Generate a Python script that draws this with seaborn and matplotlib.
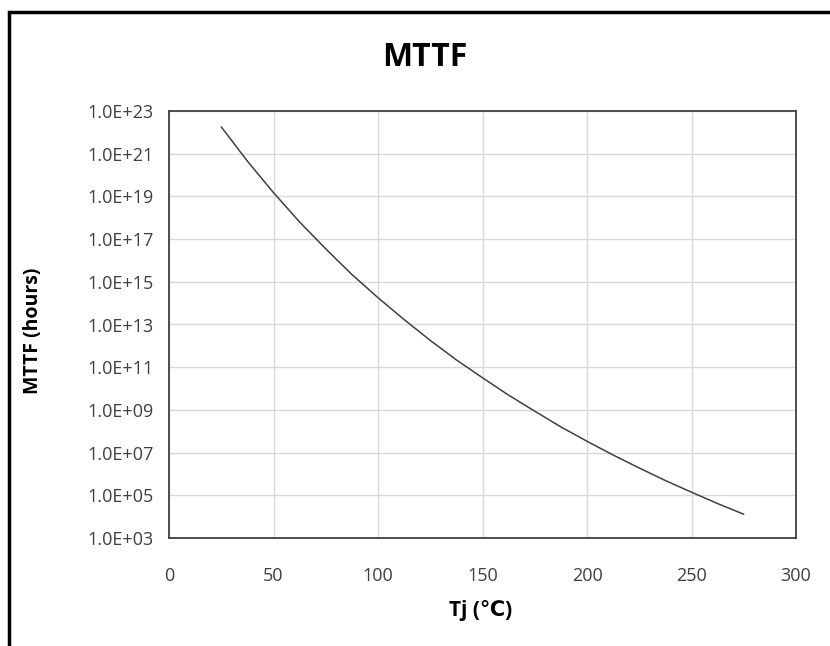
import math
import matplotlib
matplotlib.use("Agg")
import matplotlib.pyplot as plt
import matplotlib.ticker as mticker
import seaborn as sns
import pandas as pd
from matplotlib.patches import Rectangle

# junction temperature (degC) and MTTF (hours)
tj = [25, 37.5, 50, 62.5, 75, 87.5, 100, 112.5, 125, 137.5, 150,
      162.5, 175, 187.5, 200, 212.5, 225, 237.5, 250, 262.5, 275]
mttf = [1.8e22, 4.5e20, 1.5e19, 6.3e17, 3.5e16, 2.2e15, 1.8e14, 1.7e13, 1.8e12, 2.2e11, 3.2e10,
        4.9e9, 8.7e8, 1.6e8, 3.4e7, 7.7e6, 1.9e6, 4.9e5, 1.4e5, 4.1e4, 1.3e4]

x_ticks = [0, 50, 100, 150, 200, 250, 300]
y_ticks = [1e3, 1e5, 1e7, 1e9, 1e11, 1e13, 1e15, 1e17, 1e19, 1e21, 1e23]

df = pd.DataFrame({"tj": tj, "mttf": mttf})

sns.set_theme(style="white")
plt.rcParams["font.family"] = ["Open Sans", "DejaVu Sans"]

fig = plt.figure(figsize=(8.3, 6.46), dpi=100)
ax = fig.add_axes([169 / 830, 1 - 538 / 646, 627 / 830, 427 / 646])

sns.lineplot(data=df, x="tj", y="mttf", ax=ax, color="#404040", linewidth=1.1)

ax.set_yscale("log")
ax.set_xlim(0, 300)
ax.set_ylim(1e3, 1e23)
ax.set_xticks(x_ticks)
ax.set_yticks(y_ticks)
ax.yaxis.set_minor_locator(mticker.NullLocator())
ax.yaxis.set_major_formatter(
    mticker.FuncFormatter(lambda v, p: f"1.0E+{int(round(math.log10(v))):02d}"))
ax.tick_params(axis="both", labelsize=13, colors="#404040", length=0)
ax.tick_params(axis="x", pad=21)
ax.tick_params(axis="y", pad=11)
ax.grid(True, color="#d9d9d9", linewidth=1)
for s in ax.spines.values():
    s.set_color("#404040")
    s.set_linewidth(1.3)

ax.set_xlabel("")
ax.set_ylabel("")
fig.text(481 / 830, 1 - 610 / 646, "Tj (\u2103)", ha="center", va="center",
         fontsize=15, fontweight="bold", color="black")
fig.text(33 / 830, 1 - 331 / 646, "MTTF (hours)", ha="center", va="center",
         rotation=90, fontsize=14, fontweight="bold", color="black")
fig.text(425 / 830, 1 - 57 / 646, "MTTF", ha="center", va="center",
         fontsize=23, fontweight="bold", color="black")

# outer chart border (right/bottom fall outside the image)
fig.patches.append(Rectangle((9 / 830, -0.1), 1.2, 1 - 12 / 646 + 0.1,
                             transform=fig.transFigure, fill=False,
                             edgecolor="black", linewidth=2.5))

fig.savefig("out.png", dpi=100)
